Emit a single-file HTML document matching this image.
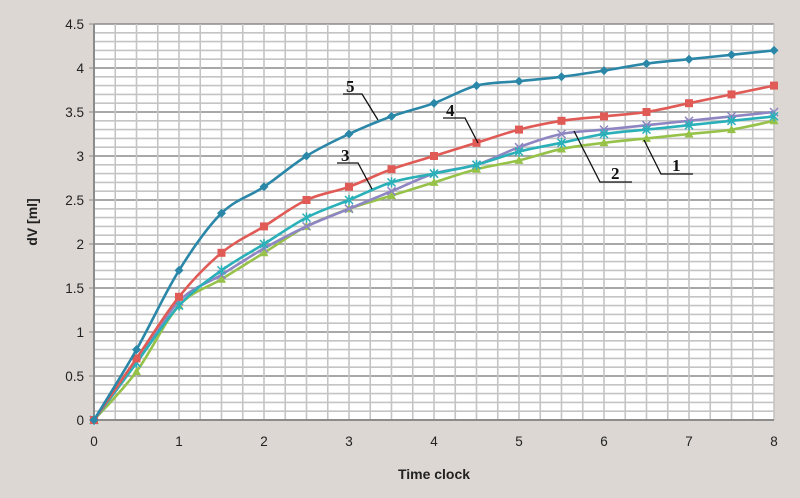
<!DOCTYPE html>
<html><head><meta charset="utf-8"><style>
html,body{margin:0;padding:0;background:#dcd7d2;}
svg{display:block;font-family:"Liberation Sans",sans-serif;}
</style></head><body>
<svg id="s" width="800" height="498" xmlns="http://www.w3.org/2000/svg">
<rect width="800" height="498" fill="#dcd7d2"/>
<rect x="94" y="24" width="680" height="396" fill="#fff"/>
<g id="grid"></g><g id="ser"></g>
<g stroke="#111" stroke-width="1.3" fill="none">
<polyline points="343,94 362,94 378,120"/>
<polyline points="443,118 465,118 478,143"/>
<polyline points="337,163 358,163 372,189"/>
<polyline points="574,131 600,182 632,182"/>
<polyline points="644,140 661,174 693,174"/>
</g>
<g font-family="Liberation Serif,serif" font-weight="bold" font-size="17" fill="#111">
<text x="346" y="92">5</text><text x="446" y="116">4</text><text x="341" y="161">3</text>
<text x="611" y="179">2</text><text x="672" y="171">1</text>
</g>
<text x="0" y="0" transform="translate(37,222) rotate(-90)" text-anchor="middle" font-size="14" font-weight="bold" fill="#222">dV [ml]</text>
<text x="434" y="479" text-anchor="middle" font-size="14" font-weight="bold" fill="#222">Time clock</text>
</svg>
<script>
const X=v=>94+v*85, Y=v=>420-v*88;
let g='';
for(let i=0;i<=45;i++){const y=Y(i/10);const maj=i%5==0;g+=`<line x1="94" x2="774" y1="${y}" y2="${y}" stroke="${maj?'#8c8c8c':'#c4c4c4'}" stroke-width="${maj?1.5:1.6}"/>`;}
for(let i=0;i<=32;i++){const x=X(i/4);g+=`<line y1="24" y2="420" x1="${x}" x2="${x}" stroke="#c4c4c4" stroke-width="1.6"/>`;}
g+=`<line x1="94" x2="94" y1="24" y2="424" stroke="#8c8c8c" stroke-width="2"/><line x1="90" x2="774" y1="420" y2="420" stroke="#8c8c8c" stroke-width="2"/>`;
for(let i=0;i<=9;i++){const v=i/2;g+=`<text x="84" y="${Y(v)+5}" text-anchor="end" font-size="13.5" fill="#222">${v}</text><line x1="89" x2="94" y1="${Y(v)}" y2="${Y(v)}" stroke="#8c8c8c"/>`;}
for(let i=0;i<=8;i++){g+=`<text x="${X(i)}" y="446" text-anchor="middle" font-size="13.5" fill="#222">${i}</text>`;}
document.getElementById('grid').innerHTML=g;
const S=[
['#97c24a','tri',[0,.55,1.3,1.6,1.9,2.2,2.4,2.55,2.7,2.85,2.95,3.08,3.15,3.2,3.25,3.3,3.4]],
['#8e86c2','x',[0,.65,1.35,1.65,1.95,2.2,2.4,2.6,2.8,2.9,3.1,3.25,3.3,3.35,3.4,3.45,3.5]],
['#2ab0b8','star',[0,.65,1.3,1.7,2.0,2.3,2.5,2.7,2.8,2.9,3.05,3.15,3.25,3.3,3.35,3.4,3.45]],
['#e05a56','sq',[0,.7,1.4,1.9,2.2,2.5,2.65,2.85,3.0,3.15,3.3,3.4,3.45,3.5,3.6,3.7,3.8]],
['#2a87a8','dia',[0,.8,1.7,2.35,2.65,3.0,3.25,3.45,3.6,3.8,3.85,3.9,3.97,4.05,4.1,4.15,4.2]]];
let h='';
function smooth(p){let d=`M${p[0][0]},${p[0][1]}`;const t=0.5/3;
 for(let i=0;i<p.length-1;i++){const p0=p[i-1]||p[i],p1=p[i],p2=p[i+1],p3=p[i+2]||p2;
  const c1=[p1[0]+(p2[0]-p0[0])*t,p1[1]+(p2[1]-p0[1])*t],c2=[p2[0]-(p3[0]-p1[0])*t,p2[1]-(p3[1]-p1[1])*t];
  d+=`C${c1[0]},${c1[1]} ${c2[0]},${c2[1]} ${p2[0]},${p2[1]}`;}return d;}
for(const [c,m,d] of S){
 const p=d.map((v,i)=>[X(i/2),Y(v)]);
 h+=`<path fill="none" stroke="${c}" stroke-width="2.6" d="${smooth(p)}"/>`;
 for(const [x,y] of p){
  if(m=='sq')h+=`<rect x="${x-4}" y="${y-4}" width="8" height="8" fill="${c}"/>`;
  else if(m=='dia')h+=`<polygon points="${x},${y-4.5} ${x+4.5},${y} ${x},${y+4.5} ${x-4.5},${y}" fill="${c}"/>`;
  else if(m=='tri')h+=`<polygon points="${x},${y-4.5} ${x+4.5},${y+3.5} ${x-4.5},${y+3.5}" fill="${c}"/>`;
  else if(m=='x')h+=`<path d="M${x-4},${y-4}L${x+4},${y+4}M${x+4},${y-4}L${x-4},${y+4}" stroke="${c}" stroke-width="1.5"/>`;
  else h+=`<path d="M${x-4},${y-4}L${x+4},${y+4}M${x+4},${y-4}L${x-4},${y+4}M${x},${y-5}V${y+5}" stroke="${c}" stroke-width="1.5"/>`;
 }
}
document.getElementById('ser').innerHTML=h;
</script>
</body></html>
